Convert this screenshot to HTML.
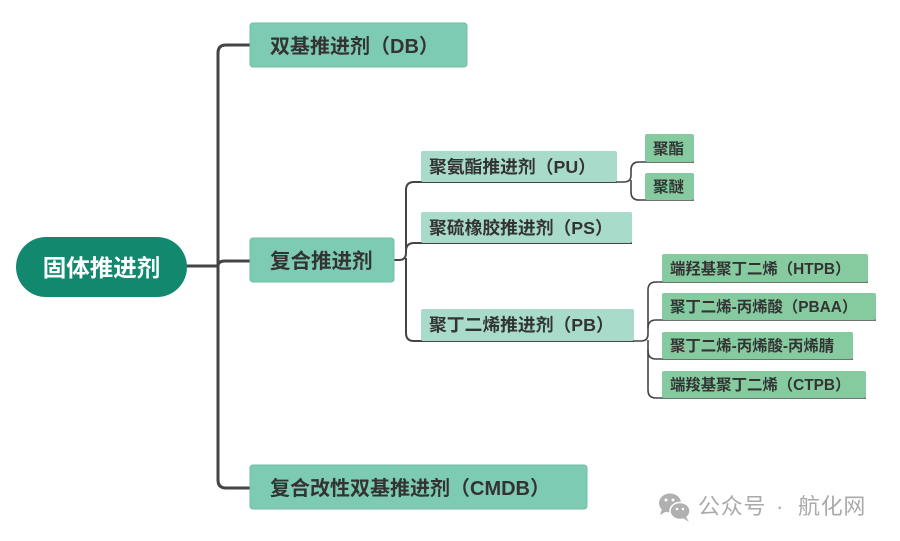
<!DOCTYPE html>
<html><head><meta charset="utf-8"><style>
html,body{margin:0;padding:0;background:#fff;}
svg{display:block;}
text{font-family:"Liberation Sans","Noto Sans CJK SC",sans-serif;font-weight:bold;fill:#333;}
</style></head><body>
<svg width="900" height="541" viewBox="0 0 900 541" xmlns="http://www.w3.org/2000/svg">
<!-- main trunk -->
<g fill="none" stroke="#444" stroke-width="3" stroke-linecap="round">
<path d="M187,266 H218"/>
<path d="M250,45 H226 Q218,45 218,53 V480 Q218,488 226,488 H250"/>
<path d="M218,266 Q218,261 225,261 H250"/>
</g>
<!-- second level connectors -->
<g fill="none" stroke="#444" stroke-width="2">
<path d="M394,260 H399 Q406,260 406,253 V190 Q406,182 414,182 H617"/>
<path d="M406,251 Q406,243 414,243 H632"/>
<path d="M406,258 V333 Q406,341 414,341 H634"/>
</g>
<!-- third level connectors -->
<g fill="none" stroke="#444" stroke-width="1.6">
<path d="M617,182 H624 Q631,182 631,175 V170 Q631,162 639,162 H694"/>
<path d="M631,180 V192 Q631,200 639,200 H694"/>
<path d="M634,341 H641 Q648,341 648,334 V290 Q648,282 656,282 H868"/>
<path d="M648,328 Q648,320 656,320 H876"/>
<path d="M648,340 V351 Q648,359 656,359 H853"/>
<path d="M648,350 V390 Q648,398 656,398 H866"/>
</g>
<!-- root -->
<rect x="16" y="237" width="171" height="60" rx="30" fill="#12896e"/>
<text x="101.5" y="276" text-anchor="middle" font-size="23.5" style="fill:#fff">固体推进剂</text>
<!-- first level -->
<rect x="250" y="23" width="217" height="44" rx="3" fill="#7ecbb3" stroke="#72bca5" stroke-width="1"/>
<text x="270" y="53" font-size="20">双基推进剂（DB）</text>
<rect x="250" y="238" width="144" height="44" rx="3" fill="#7ecbb3" stroke="#72bca5" stroke-width="1"/>
<text x="270" y="268" font-size="20.5">复合推进剂</text>
<rect x="250" y="465" width="337" height="44" rx="3" fill="#7ecbb3" stroke="#72bca5" stroke-width="1"/>
<text x="270" y="495" font-size="20">复合改性双基推进剂（CMDB）</text>
<!-- second level -->
<rect x="421" y="151" width="196" height="31" rx="2" fill="#a9dbca"/>
<text x="429" y="173" font-size="17.8">聚氨酯推进剂（PU）</text>
<rect x="421" y="212" width="211" height="31" rx="2" fill="#a9dbca"/>
<text x="429" y="234" font-size="17.8">聚硫橡胶推进剂（PS）</text>
<rect x="421" y="309" width="213" height="32" rx="2" fill="#a9dbca"/>
<text x="429" y="331" font-size="17.8">聚丁二烯推进剂（PB）</text>
<!-- third level -->
<rect x="645" y="134" width="49" height="28" rx="2" fill="#86cba0"/>
<text x="653" y="154" font-size="15.5">聚酯</text>
<rect x="645" y="173" width="49" height="27" rx="2" fill="#86cba0"/>
<text x="653" y="192" font-size="15.5">聚醚</text>
<rect x="662" y="254" width="206" height="28" rx="2" fill="#86cba0"/>
<text x="670" y="274" font-size="15.4">端羟基聚丁二烯（HTPB）</text>
<rect x="662" y="293" width="214" height="27" rx="2" fill="#86cba0"/>
<text x="670" y="312" font-size="15.4">聚丁二烯-丙烯酸（PBAA）</text>
<rect x="662" y="332" width="191" height="27" rx="2" fill="#86cba0"/>
<text x="670" y="351" font-size="15.4">聚丁二烯-丙烯酸-丙烯腈</text>
<rect x="662" y="371" width="204" height="27" rx="2" fill="#86cba0"/>
<text x="670" y="390" font-size="15.4">端羧基聚丁二烯（CTPB）</text>
<!-- watermark -->
<g>
<ellipse cx="670" cy="503" rx="11" ry="9.5" fill="#b0b0b0"/>
<path d="M662,509 L660,515 L667,511 Z" fill="#b0b0b0"/>
<ellipse cx="680" cy="511" rx="10" ry="8.5" fill="#b0b0b0" stroke="#fff" stroke-width="1.5"/>
<path d="M686,517 L689,522 L683,518 Z" fill="#b0b0b0"/>
<circle cx="666" cy="500" r="1.5" fill="#fff"/>
<circle cx="673" cy="500" r="1.5" fill="#fff"/>
<circle cx="677" cy="509" r="1.3" fill="#fff"/>
<circle cx="683" cy="509" r="1.3" fill="#fff"/>
</g>
<text x="698" y="514" font-size="22" letter-spacing="0.7" style="font-weight:normal;fill:#aaa">公众号</text>
<text x="776" y="514" font-size="22" style="font-weight:normal;fill:#aaa">·</text>
<text x="798" y="514" font-size="22" letter-spacing="0.7" style="font-weight:normal;fill:#aaa">航化网</text>
</svg>
</body></html>
